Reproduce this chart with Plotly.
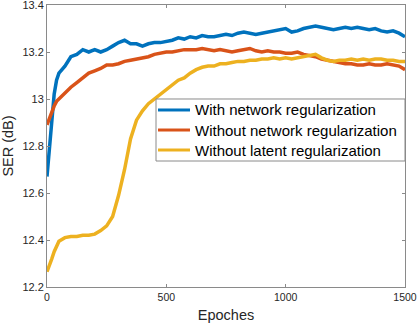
import plotly.graph_objects as go

epochs = [0, 10, 20, 30, 40] + list(range(50, 1501, 25))

with_net = [12.67, 12.80, 12.93, 13.02, 13.08,
            13.11, 13.14, 13.18, 13.19, 13.21, 13.20, 13.21, 13.20, 13.21, 13.225,
            13.24, 13.25, 13.235, 13.235, 13.225, 13.235, 13.24, 13.24, 13.245, 13.25,
            13.26, 13.255, 13.265, 13.26, 13.27, 13.265, 13.265, 13.27, 13.275, 13.27,
            13.28, 13.285, 13.28, 13.275, 13.28, 13.285, 13.29, 13.295, 13.30, 13.285,
            13.29, 13.30, 13.305, 13.31, 13.305, 13.30, 13.295, 13.30, 13.305, 13.30,
            13.305, 13.30, 13.295, 13.30, 13.29, 13.285, 13.29, 13.28, 13.265]

without_net = [12.89, 12.92, 12.95, 12.97, 12.99,
               13.00, 13.03, 13.05, 13.07, 13.09, 13.11, 13.12, 13.13, 13.145, 13.145,
               13.15, 13.16, 13.165, 13.17, 13.175, 13.18, 13.19, 13.195, 13.20, 13.20,
               13.205, 13.21, 13.21, 13.21, 13.215, 13.21, 13.205, 13.21, 13.205, 13.20,
               13.205, 13.21, 13.215, 13.205, 13.20, 13.205, 13.20, 13.20, 13.195, 13.195,
               13.20, 13.19, 13.185, 13.18, 13.17, 13.165, 13.16, 13.155, 13.15, 13.15,
               13.145, 13.145, 13.15, 13.145, 13.145, 13.15, 13.145, 13.14, 13.125]

without_latent = [12.265, 12.29, 12.32, 12.35, 12.375,
                  12.395, 12.41, 12.415, 12.415, 12.42, 12.42, 12.425, 12.44, 12.46, 12.50,
                  12.59, 12.70, 12.83, 12.91, 12.95, 12.98, 13.00, 13.02, 13.04, 13.06,
                  13.08, 13.09, 13.11, 13.125, 13.135, 13.14, 13.14, 13.15, 13.15, 13.155,
                  13.16, 13.16, 13.165, 13.165, 13.17, 13.17, 13.175, 13.17, 13.175, 13.17,
                  13.175, 13.18, 13.185, 13.19, 13.175, 13.165, 13.16, 13.165, 13.165, 13.17,
                  13.165, 13.17, 13.165, 13.17, 13.17, 13.165, 13.165, 13.16, 13.16]

names = ['With network regularization', 'Without network regularization',
         'Without latent regularization']
colors = ['#0072BD', '#D95319', '#EDB120']

fig = go.Figure()
for name, ys, c in zip(names, [with_net, without_net, without_latent], colors):
    fig.add_trace(go.Scatter(x=epochs, y=ys, mode='lines', name=name,
                             line=dict(color=c, width=3.5), showlegend=False))

axis_style = dict(showline=True, linecolor='#8a8a8a', linewidth=1, mirror='ticks',
                  ticks='inside', ticklen=3, tickcolor='#8a8a8a', showgrid=False,
                  zeroline=False, automargin=False, ticklabeloverflow='allow')

fig.update_xaxes(range=[0, 1500], tickvals=[0, 500, 1000, 1500],
                 tickfont=dict(size=10.5, color='#262626'),
                 title=dict(text='Epoches', font=dict(size=14.5, color='#262626'), standoff=8),
                 **axis_style)
fig.update_yaxes(range=[12.19999, 13.40001], tickvals=[12.2, 12.4, 12.6, 12.8, 13, 13.2, 13.4],
                 ticktext=['12.2', '12.4', '12.6', '12.8', '13', '13.2', '13.4'],
                 tickfont=dict(size=11, color='#262626'),
                 title=dict(text='SER (dB)', font=dict(size=14.5, color='#262626'), standoff=6),
                 **axis_style)

## MATLAB-style legend box (plotly's own legend spaces rows too far apart)
fig.add_shape(type='rect', xref='paper', yref='paper', x0=0.3045, x1=1.0,
              y0=0.4468, y1=0.6667, fillcolor='white',
              line=dict(color='#8a8a8a', width=1), layer='above')
row_y = [0.6277, 0.5567, 0.4858]
for name, c, ry in zip(names, colors, row_y):
    fig.add_shape(type='line', xref='paper', yref='paper', x0=0.3101, x1=0.3994,
                  y0=ry, y1=ry, line=dict(color=c, width=3), layer='above')
    fig.add_annotation(text=name, xref='paper', yref='paper', x=0.4078, y=ry,
                       xanchor='left', yanchor='middle', showarrow=False,
                       font=dict(size=15, color='#000000'))

fig.update_layout(
    width=419, height=328,
    margin=dict(l=47, r=14, t=5, b=41),
    plot_bgcolor='white', paper_bgcolor='white',
    font=dict(family='Liberation Sans, Arial, sans-serif', color='#262626'),
)

# the page's default body margin would shift the figure; drop it
fig.write_html("out.html", config={'displayModeBar': False},
               post_script="document.body.style.margin='0';")
